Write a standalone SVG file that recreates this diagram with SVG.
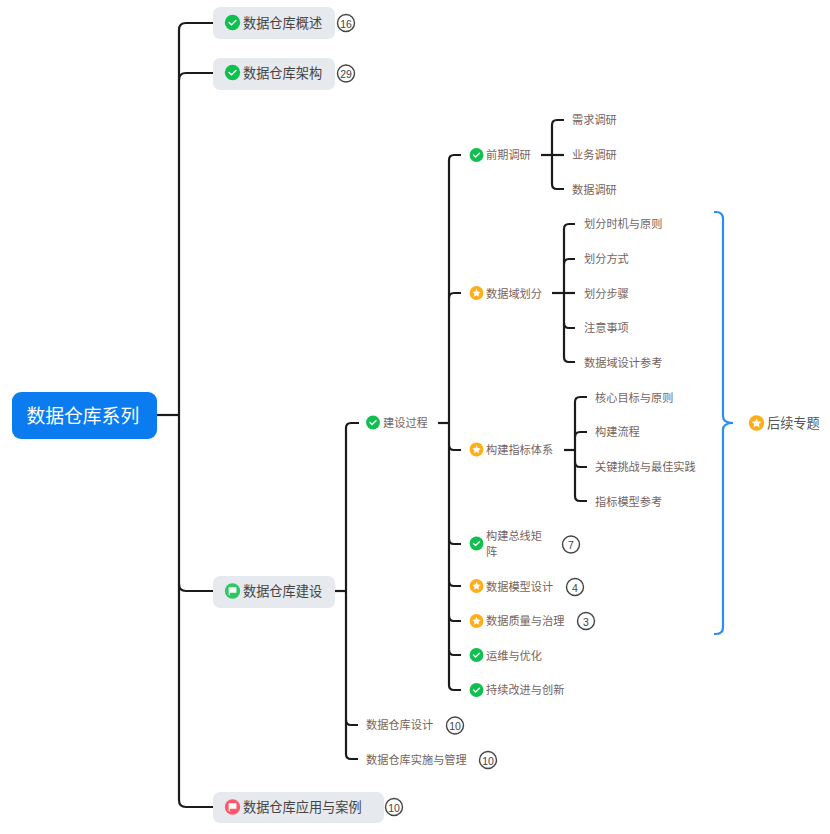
<svg xmlns="http://www.w3.org/2000/svg" width="830" height="834" viewBox="0 0 830 834">
<style>
text{font-family:"Noto Sans CJK SC","Liberation Sans",sans-serif}
.c{fill:none;stroke:#1b1b1b;stroke-width:2.200;stroke-linecap:butt}
.pill{fill:#e6e9ed}
.l1{font-size:13.2px;fill:#444;dominant-baseline:central;transform:translateY(-.6px)}
.t{font-size:11.2px;fill:#75635e;dominant-baseline:central;transform:translateY(-.7px)}
.b{fill:#fff;stroke:#444;stroke-width:1.4}
.bt{font-size:10.500px;fill:#444;text-anchor:middle;dominant-baseline:central;font-family:"Liberation Sans",sans-serif}
.w{fill:none;stroke:#fff;stroke-width:1.4;stroke-linecap:round;stroke-linejoin:round}
</style>
<defs>
<g id="check"><circle r="7.700" fill="#0fbf4f"/><path class="w" d="M-3.4 0L-1 2.300L3.400 -1.900"/></g>
<g id="checks"><circle r="6.900" fill="#0fbf4f"/><path class="w" d="M-3 0L-1 2L3 -1.700"/></g>
<g id="star"><circle r="6.900" fill="#ffae17"/><path fill="#fff" d="M0 -4.2L1.25 -1.4L4.2 -1.1L2 .9L2.6 3.8L0 2.3L-2.6 3.8L-2 .9L-4.2 -1.1L-1.25 -1.4Z"/></g>
<path id="flag" fill="#fff" d="M-3.800 -3.800H3.900V1.800H-2.700V4.200H-3.800Z"/>
</defs>

<g id="connectors">
<path class="c" d="M157 415H179"/>
<path class="c" d="M213 23H186Q179 23 179 30V800Q179 807 186 807H213"/>
<path class="c" d="M213 73H186Q179 73 179 80"/>
<path class="c" d="M213 591H186Q179 591 179 584"/>
<path class="c" d="M335 591H346"/>
<path class="c" d="M359 423H351Q346 423 346 428V754Q346 759 351 759H358"/>
<path class="c" d="M358 725H351Q346 725 346 720"/>
<path class="c" d="M438 423H449"/>
<path class="c" d="M461 155H454Q449 155 449 160V685Q449 690 454 690H461"/>
<path class="c" d="M461 293H454Q449 293 449 298"/>
<path class="c" d="M461 450H454Q449 450 449 445"/>
<path class="c" d="M461 544H454Q449 544 449 539"/>
<path class="c" d="M461 586H454Q449 586 449 581"/>
<path class="c" d="M461 621H454Q449 621 449 616"/>
<path class="c" d="M461 655H454Q449 655 449 650"/>
<path class="c" d="M541 155H564"/>
<path class="c" d="M564 120H557Q552 120 552 125V184Q552 189 557 189H564"/>
<path class="c" d="M552 293H575"/>
<path class="c" d="M575 224H569Q564 224 564 229V357Q564 362 569 362H575"/>
<path class="c" d="M575 259H569Q564 259 564 264"/>
<path class="c" d="M575 328H569Q564 328 564 323"/>
<path class="c" d="M564 450H575"/>
<path class="c" d="M587 397H580Q575 397 575 402V496Q575 501 580 501H587"/>
<path class="c" d="M587 432H580Q575 432 575 437"/>
<path class="c" d="M587 467H580Q575 467 575 462"/>
<path d="M714 212H716Q723 212 723 219V416Q723 423 733 423Q723 423 723 430V627Q723 634 716 634H714" fill="none" stroke="#2a8df5" stroke-width="2.200"/>
</g>

<g id="root"><rect x="12" y="392" width="145" height="47" rx="9" fill="#0a7cf0"/><text x="26.500" y="414.700" font-size="18.800" fill="#fff" dominant-baseline="central">数据仓库系列</text></g>

<g id="n-overview"><rect class="pill" x="213" y="7" width="122" height="32" rx="7"/><use href="#check" x="232.500" y="22.500"/><text class="l1" x="243" y="23">数据仓库概述</text><circle class="b" cx="346" cy="23" r="8.500"/><text class="bt" x="346" y="23.500">16</text></g>
<g id="n-arch"><rect class="pill" x="213" y="58" width="122" height="32" rx="7"/><use href="#check" x="232.500" y="72.500"/><text class="l1" x="243" y="73">数据仓库架构</text><circle class="b" cx="346" cy="73.500" r="8.500"/><text class="bt" x="346" y="74">29</text></g>
<g id="n-build"><rect class="pill" x="213" y="576" width="122" height="32" rx="7"/><circle cx="232.500" cy="591" r="7.700" fill="#2fc764"/><use href="#flag" x="232.500" y="591"/><text class="l1" x="243" y="591">数据仓库建设</text></g>
<g id="n-app"><rect class="pill" x="213" y="792" width="171" height="31" rx="7"/><circle cx="232.500" cy="807" r="7.700" fill="#fb5a6e"/><use href="#flag" x="232.500" y="807"/><text class="l1" x="243" y="807">数据仓库应用与案例</text><circle class="b" cx="394" cy="807" r="8.500"/><text class="bt" x="394" y="807.500">10</text></g>

<g id="n-process"><use href="#checks" x="373" y="422.500"/><text class="t" x="383" y="423">建设过程</text></g>
<g id="n-design"><text class="t" x="366" y="725">数据仓库设计</text><circle class="b" cx="455" cy="725.500" r="8.500"/><text class="bt" x="455" y="726">10</text></g>
<g id="n-impl"><text class="t" x="366" y="760">数据仓库实施与管理</text><circle class="b" cx="488" cy="760" r="8.500"/><text class="bt" x="488" y="760.500">10</text></g>

<g id="n-research"><use href="#checks" x="476.500" y="155"/><text class="t" x="486" y="155">前期调研</text></g>
<g id="n-r1"><text class="t" x="572" y="120">需求调研</text></g>
<g id="n-r2"><text class="t" x="572" y="155">业务调研</text></g>
<g id="n-r3"><text class="t" x="572" y="189.500">数据调研</text></g>

<g id="n-domain"><use href="#star" x="476.500" y="293"/><text class="t" x="486" y="293.500">数据域划分</text></g>
<g id="n-d1"><text class="t" x="584" y="224">划分时机与原则</text></g>
<g id="n-d2"><text class="t" x="584" y="259">划分方式</text></g>
<g id="n-d3"><text class="t" x="584" y="293.500">划分步骤</text></g>
<g id="n-d4"><text class="t" x="584" y="328">注意事项</text></g>
<g id="n-d5"><text class="t" x="584" y="362.500">数据域设计参考</text></g>

<g id="n-metric"><use href="#star" x="476.500" y="449.500"/><text class="t" x="486" y="449.500">构建指标体系</text></g>
<g id="n-m1"><text class="t" x="595" y="397.500">核心目标与原则</text></g>
<g id="n-m2"><text class="t" x="595" y="432">构建流程</text></g>
<g id="n-m3"><text class="t" x="595" y="467">关键挑战与最佳实践</text></g>
<g id="n-m4"><text class="t" x="595" y="501.500">指标模型参考</text></g>

<g id="n-bus"><use href="#checks" x="476.500" y="543.500"/><text class="t" x="486" y="536">构建总线矩</text><text class="t" x="486" y="552">阵</text><circle class="b" cx="571" cy="544.500" r="8.500"/><text class="bt" x="571" y="545">7</text></g>
<g id="n-model"><use href="#star" x="476.500" y="586"/><text class="t" x="486" y="586.500">数据模型设计</text><circle class="b" cx="575" cy="587" r="8.500"/><text class="bt" x="575" y="587.500">4</text></g>
<g id="n-quality"><use href="#star" x="476.500" y="621"/><text class="t" x="486" y="621">数据质量与治理</text><circle class="b" cx="586" cy="621" r="8.500"/><text class="bt" x="586" y="621.500">3</text></g>
<g id="n-ops"><use href="#checks" x="476.500" y="655"/><text class="t" x="486" y="655.500">运维与优化</text></g>
<g id="n-improve"><use href="#checks" x="476.500" y="690"/><text class="t" x="486" y="690">持续改进与创新</text></g>

<g id="n-later"><circle cx="756.500" cy="423" r="7.700" fill="#ffae17"/><path fill="#fff" transform="translate(756.500 423) scale(1.15)" d="M0 -4.2L1.25 -1.4L4.2 -1.1L2 .9L2.6 3.8L0 2.3L-2.6 3.8L-2 .9L-4.2 -1.1L-1.25 -1.4Z"/><text x="767" y="422.500" font-size="13.200" fill="#555" dominant-baseline="central">后续专题</text></g>
</svg>
